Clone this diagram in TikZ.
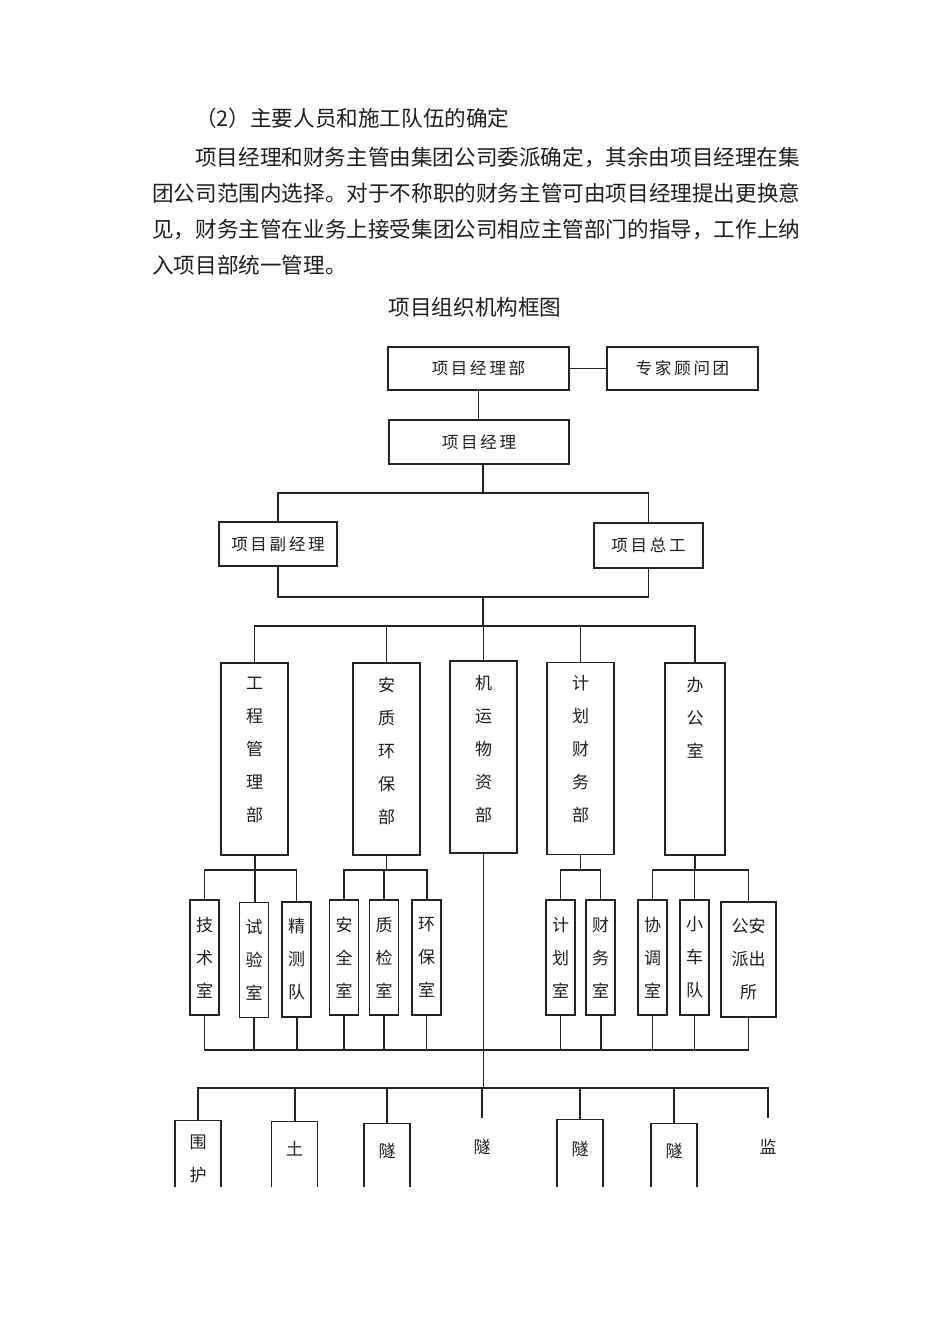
\documentclass[tikz,border=0pt]{standalone}
\usepackage{fontspec}
\setmainfont{Noto Sans CJK SC}
\usetikzlibrary{positioning}
\definecolor{figline}{RGB}{35,35,35}
\definecolor{figtext}{RGB}{30,30,30}
\tikzset{
  ln/.style   ={draw=figline, line width=1.2pt},
  lnb/.style  ={draw=figline, line width=2pt},
  box/.style  ={draw=figline, line width=1.4pt, inner sep=0pt, text=figtext, font=\fontsize{16.5}{20}\selectfont},
  boxb/.style ={box, line width=2pt},
  dept/.style ={box, minimum width=67pt, minimum height=192pt},
  sub/.style  ={box, minimum width=29pt, minimum height=115pt, align=center, font=\fontsize{17}{33}\selectfont},
  btm/.style  ={box, minimum width=46pt, minimum height=120pt, anchor=north},
  vlab/.style ={anchor=north, align=center, inner sep=0pt, text=figtext, font=\fontsize{17}{33}\selectfont},
  txt/.style  ={anchor=west, inner sep=0pt, text=figtext, font=\fontsize{21.6}{26}\selectfont},
}

\begin{document}
\begin{tikzpicture}[x=1pt,y=-1pt]
  \useasboundingbox[fill=white] (0,0) rectangle (950,1344);
  % text above the chart
  \node[txt] (h1) at (195,118) {（2）主要人员和施工队伍的确定};
  \node[txt] (p1) at (195,157) {项目经理和财务主管由集团公司委派确定，其余由项目经理在集};
  \node[txt] (p2) at (152,193) {团公司范围内选择。对于不称职的财务主管可由项目经理提出更换意};
  \node[txt] (p3) at (152,229) {见，财务主管在业务上接受集团公司相应主管部门的指导，工作上纳};
  \node[txt] (p4) at (152,265) {入项目部统一管理。};
  \node[txt,anchor=center] (ttl) at (475,307) {项目组织机构框图};

  % top
  \node[boxb,minimum width=181pt,minimum height=43pt] (pmd) at (478.5,368.5) {项\,目\,经\,理\,部};
  \node[box,minimum width=151pt,minimum height=43pt] (exp) at (682.5,368.5) {专\,家\,顾\,问\,团};
  \node[boxb,minimum width=180pt,minimum height=44pt] (pm) at (479,442) {项\,目\,经\,理};
  \node[box,minimum width=118pt,minimum height=44pt] (dpm) at (278,544) {项\,目\,副\,经\,理};
  \node[box,minimum width=109pt,minimum height=45pt] (chief) at (648.5,545.5) {项\,目\,总\,工};
  \draw[ln] (pmd) -- (exp);
  \draw[ln] (pmd.south) -- (pmd.south |- pm.north);
  \coordinate (bus1) at (483,493);
  \coordinate (bus2) at (483,597);
  \coordinate (bus3) at (483,626);
  \draw[ln] (pm.south -| bus1) -- (bus1);
  \draw[ln] (dpm.north) |- (bus1) -| (chief.north);
  \draw[ln] (dpm.south) |- (bus2) -| (chief.south);
  \draw[ln] (bus2) -- (bus3);

  % departments
  \node[dept,label={[vlab,yshift=-14.5pt]north:{工\\程\\管\\理\\部}}] (d1) at (254.5,759) {};
  \node[dept,label={[vlab,yshift=-14.5pt]north:{安\\质\\环\\保\\部}}] (d2) at (386.5,759) {};
  \node[dept,label={[vlab,yshift=-14.5pt]north:{机\\运\\物\\资\\部}}] (d3) at (483.5,757) {};
  \node[dept,label={[vlab,yshift=-13.5pt]north:{计\\划\\财\\务\\部}}] (d4) at (580.5,758.5) {};
  \node[dept,minimum width=60pt,label={[vlab,yshift=-14.5pt]north:{办\\公\\室}}] (d5) at (695,759) {};
  \draw[ln] (d1.north) |- (bus3) -| (d5.north);
  \foreach \d in {d2,d3,d4}
    \draw[ln] (\d.north) -- (\d.north |- bus3);

  % offices
  \node[sub] (s1) at (204.5,957.5) {技\\术\\室};
  \node[sub] (s2) at (254,960) {试\\验\\室};
  \node[sub] (s3) at (296.5,959.5) {精\\测\\队};
  \node[sub] (s4) at (344,957.5) {安\\全\\室};
  \node[sub] (s5) at (384,957.5) {质\\检\\室};
  \node[sub] (s6) at (426.5,957.5) {环\\保\\室};
  \node[sub] (s7) at (560.5,957.5) {计\\划\\室};
  \node[sub] (s8) at (600.5,957.5) {财\\务\\室};
  \node[sub] (s9) at (652.5,957.5) {协\\调\\室};
  \node[sub] (s10) at (694.5,957.5) {小\\车\\队};
  \node[sub,minimum width=55pt] (s11) at (748.5,959.5) {公安\\派出\\所};

  \draw[lnb] (d1.south) -- (d1.south |- s2.north);
  \draw[ln] (s1.north) |- (0,870 -| s3.north) -- (s3.north);
  \draw[ln] (d2.south) -- (d2.south |- 0,870);
  \draw[lnb] (s4.north) |- (0,870 -| s6.north) -- (s6.north);
  \draw[ln] (s5.north) -- (s5.north |- 0,870);
  \draw[ln] (d4.south) -- (d4.south |- 0,870);
  \draw[ln] (s7.north) |- (0,870 -| s8.north) -- (s8.north);
  \draw[ln] (d5.south) -- (d5.south |- 0,870);
  \draw[ln] (s9.north) |- (0,870 -| s11.north) -- (s11.north);
  \draw[ln] (s10.north) -- (s10.north |- 0,870);

  \draw[ln] (s1.south) |- (0,1050 -| s11.south) -- (s11.south);
  \foreach \s in {s4,s5,s6,s7,s9,s10}
    \draw[ln] (\s.south) -- (\s.south |- 0,1050);
  \foreach \s in {s2,s3,s8}
    \draw[lnb] (\s.south) -- (\s.south |- 0,1050);

  % teams (cut off at the page end)
  \begin{scope}
    \clip (0,0) rectangle (950,1186);
    \coordinate (bus5) at (483.5,1088);
    \node[btm,label={[vlab,yshift=-14.5pt]north:{围\\护}}] (b1) at (198,1120) {};
    \node[btm,label={[vlab,yshift=-20pt]north:{土}}] (b2) at (294.5,1121) {};
    \node[btm,label={[vlab,yshift=-20pt]north:{隧}}] (b3) at (387,1123) {};
    \node[btm,draw=none,label={[vlab,yshift=-21pt]north:{隧}}] (b4) at (482,1118) {};
    \node[btm,label={[vlab,yshift=-22pt]north:{隧}}] (b5) at (580,1119) {};
    \node[btm,label={[vlab,yshift=-20pt]north:{隧}}] (b6) at (674,1123) {};
    \node[btm,draw=none,label={[vlab,yshift=-21pt]north:{监}}] (b7) at (768,1118) {};
    \draw[ln] (d3.south) -- (bus5);
    \draw[ln] (b1.north) |- (bus5) -| (b7.north);
    \foreach \b in {b3,b4,b6}
      \draw[ln] (\b.north) -- (\b.north |- bus5);
    \foreach \b in {b1,b2,b5}
      \draw[lnb] (\b.north) -- (\b.north |- bus5);
  \end{scope}
\end{tikzpicture}
\end{document}
